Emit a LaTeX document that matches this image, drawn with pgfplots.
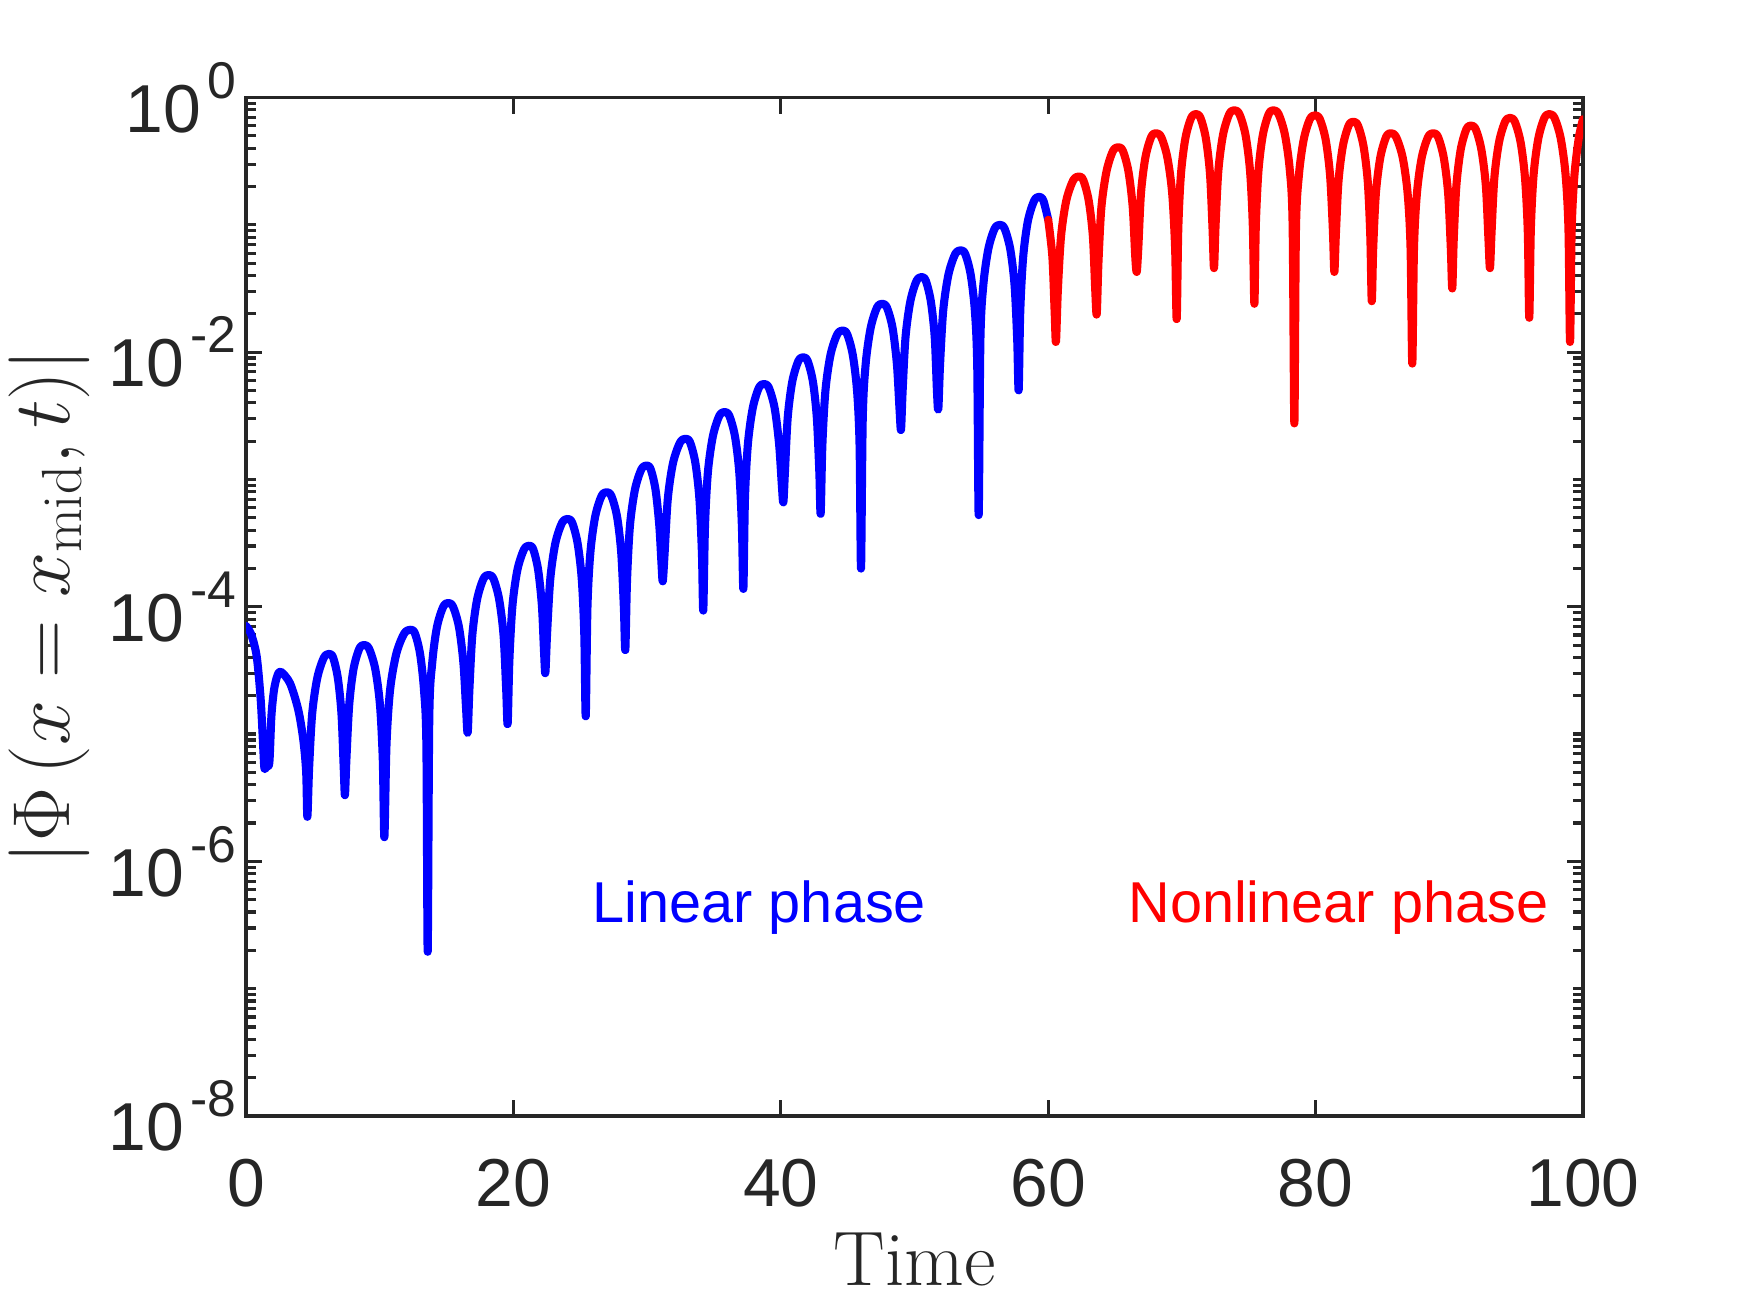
\documentclass[border=0pt]{standalone}
\usepackage{fix-cm}
\usepackage{fontspec}
\usepackage{pgfplots}
\usepackage{pgfplotstable}
\pgfplotsset{compat=1.18}
\newfontfamily\lsans{Liberation Sans}
\definecolor{axgray}{rgb}{0.15,0.15,0.15}
\newcommand\tickfont{\lsans\fontsize{19.3}{23}\selectfont}
\newcommand\txtfont{\lsans\fontsize{16.4}{19}\selectfont}
\newcommand\labfont{\fontsize{22}{26}\selectfont}
\newcommand\ylabfont{\fontsize{23}{27}\selectfont}
\newcommand\sps[1]{\hspace{0.1em}\raisebox{0.5em}{\fontsize{14.7}{17}\selectfont #1}}

% time, log10|Phi|
\pgfplotstableread{
t ly
0 -4.15
0.4 -4.22
0.8 -4.39
1.1 -4.73
1.3 -5.13
1.38 -5.27
1.55 -5.25
1.75 -5.22
1.9 -4.86
2.1 -4.65
2.35 -4.54
2.6 -4.51
3.29 -4.60
3.91 -4.81
4.29 -5.05
4.50 -5.30
4.59 -5.65
4.72 -5.27
4.95 -4.84
5.33 -4.56
5.82 -4.40
6.23 -4.37
6.52 -4.40
6.87 -4.56
7.14 -4.84
7.31 -5.27
7.40 -5.48
7.51 -5.20
7.72 -4.77
8.04 -4.49
8.47 -4.33
8.83 -4.30
9.21 -4.33
9.67 -4.49
10.02 -4.77
10.23 -5.20
10.35 -5.81
10.51 -5.08
10.78 -4.65
11.24 -4.37
11.83 -4.21
12.32 -4.18
12.64 -4.21
13.02 -4.37
13.31 -4.65
13.49 -5.08
13.59 -6.71
13.71 -4.87
13.93 -4.44
14.28 -4.16
14.75 -4.00
15.13 -3.97
15.49 -4.00
15.93 -4.16
16.26 -4.44
16.46 -4.80
16.58 -4.99
16.71 -4.65
16.93 -4.22
17.29 -3.94
17.76 -3.78
18.15 -3.75
18.51 -3.78
18.93 -3.94
19.26 -4.22
19.46 -4.65
19.57 -4.92
19.70 -4.42
19.93 -3.99
20.30 -3.71
20.79 -3.55
21.19 -3.52
21.49 -3.55
21.85 -3.71
22.13 -3.99
22.29 -4.35
22.39 -4.52
22.52 -4.21
22.76 -3.78
23.14 -3.50
23.64 -3.34
24.06 -3.31
24.40 -3.34
24.80 -3.50
25.11 -3.78
25.30 -4.21
25.41 -4.86
25.54 -4.00
25.76 -3.57
26.12 -3.29
26.59 -3.13
26.98 -3.10
27.33 -3.13
27.75 -3.29
28.06 -3.57
28.26 -4.00
28.37 -4.34
28.50 -3.79
28.72 -3.36
29.09 -3.08
29.57 -2.92
29.97 -2.89
30.27 -2.92
30.63 -3.08
30.91 -3.36
31.07 -3.65
31.17 -3.80
31.31 -3.58
31.55 -3.15
31.94 -2.87
32.46 -2.71
32.89 -2.68
33.22 -2.71
33.61 -2.87
33.91 -3.15
34.10 -3.58
34.20 -4.03
34.33 -3.37
34.55 -2.94
34.92 -2.66
35.40 -2.50
35.80 -2.47
36.15 -2.50
36.57 -2.66
36.89 -2.94
37.09 -3.37
37.20 -3.86
37.32 -3.15
37.54 -2.72
37.90 -2.44
38.36 -2.28
38.75 -2.25
39.11 -2.28
39.54 -2.44
39.87 -2.72
40.08 -3.05
40.19 -3.18
40.31 -2.94
40.52 -2.51
40.86 -2.23
41.31 -2.07
41.68 -2.04
42.01 -2.07
42.40 -2.23
42.69 -2.51
42.88 -2.94
42.98 -3.27
43.11 -2.73
43.34 -2.30
43.72 -2.02
44.22 -1.86
44.63 -1.83
44.97 -1.86
45.38 -2.02
45.70 -2.30
45.89 -2.73
46.00 -3.70
46.13 -2.52
46.35 -2.09
46.72 -1.81
47.19 -1.65
47.59 -1.62
47.94 -1.65
48.36 -1.81
48.68 -2.09
48.88 -2.45
48.99 -2.61
49.11 -2.31
49.33 -1.88
49.69 -1.60
50.15 -1.44
50.54 -1.41
50.85 -1.44
51.22 -1.60
51.51 -1.88
51.68 -2.31
51.78 -2.45
51.91 -2.10
52.15 -1.67
52.54 -1.39
53.04 -1.23
53.46 -1.20
53.80 -1.23
54.20 -1.39
54.51 -1.67
54.69 -2.10
54.80 -3.28
54.93 -1.90
55.15 -1.47
55.52 -1.19
55.99 -1.03
56.39 -1.00
56.74 -1.03
57.16 -1.19
57.48 -1.47
57.68 -1.90
57.79 -2.30
57.91 -1.68
58.13 -1.25
58.48 -0.97
58.95 -0.81
59.33 -0.78
59.64 -0.81
60.00 -0.96
}\lineardata

\pgfplotstableread{
t ly
60.00 -0.96
60.31 -1.25
60.48 -1.68
60.58 -1.92
60.72 -1.52
60.96 -1.09
61.35 -0.81
61.87 -0.65
62.30 -0.62
62.63 -0.65
63.03 -0.81
63.34 -1.09
63.52 -1.52
63.63 -1.70
63.76 -1.29
63.98 -0.86
64.36 -0.58
64.84 -0.42
65.24 -0.39
65.59 -0.42
66.00 -0.58
66.32 -0.86
66.51 -1.25
66.62 -1.37
66.74 -1.18
66.94 -0.75
67.27 -0.47
67.70 -0.31
68.06 -0.28
68.45 -0.31
68.91 -0.47
69.27 -0.75
69.49 -1.18
69.61 -1.74
69.73 -1.03
69.93 -0.60
70.26 -0.32
70.69 -0.16
71.05 -0.13
71.39 -0.16
71.79 -0.32
72.10 -0.60
72.29 -1.03
72.40 -1.34
72.52 -1.00
72.73 -0.57
73.08 -0.29
73.54 -0.13
73.92 -0.10
74.30 -0.13
74.75 -0.29
75.09 -0.57
75.30 -1.00
75.42 -1.62
75.53 -1.00
75.73 -0.57
76.06 -0.29
76.49 -0.13
76.84 -0.10
77.23 -0.13
77.70 -0.29
78.07 -0.57
78.28 -1.00
78.41 -2.56
78.53 -1.04
78.75 -0.61
79.11 -0.33
79.57 -0.17
79.96 -0.14
80.32 -0.17
80.75 -0.33
81.08 -0.61
81.29 -1.04
81.40 -1.37
81.51 -1.09
81.71 -0.66
82.04 -0.38
82.47 -0.22
82.82 -0.19
83.17 -0.22
83.58 -0.38
83.90 -0.66
84.09 -1.09
84.20 -1.60
84.31 -1.18
84.51 -0.75
84.84 -0.47
85.27 -0.31
85.62 -0.28
86.02 -0.31
86.51 -0.47
86.88 -0.75
87.10 -1.18
87.23 -2.09
87.36 -1.18
87.58 -0.75
87.94 -0.47
88.41 -0.31
88.80 -0.28
89.16 -0.31
89.58 -0.47
89.91 -0.75
90.11 -1.18
90.22 -1.50
90.33 -1.12
90.53 -0.69
90.85 -0.41
91.27 -0.25
91.62 -0.22
91.98 -0.25
92.40 -0.41
92.73 -0.69
92.93 -1.12
93.04 -1.34
93.16 -1.06
93.37 -0.63
93.72 -0.35
94.17 -0.19
94.54 -0.16
94.90 -0.19
95.33 -0.35
95.66 -0.63
95.87 -1.06
95.98 -1.73
96.10 -1.03
96.31 -0.60
96.66 -0.32
97.11 -0.16
97.48 -0.13
97.87 -0.16
98.33 -0.32
98.69 -0.60
98.91 -1.03
99.03 -1.92
99.15 -1.05
99.35 -0.62
99.68 -0.32
100 -0.17
}\nonlineardata

\begin{document}
\begin{tikzpicture}
\path[use as bounding box] (-2.46cm,-1.97cm) rectangle (15.04cm,11.16cm);
\begin{axis}[
  at={(0,0)}, anchor=south west,
  scale only axis, width=13.37cm, height=10.185cm,
  xmin=0, xmax=100, ymin=-8, ymax=0,
  xtick={0,20,40,60,80,100},
  xticklabels={0,20,40,60,80,100},
  ytick={-8,-6,-4,-2,0},
  yticklabels={10\sps{-8},10\sps{-6},10\sps{-4},10\sps{-2},10\sps{0}},
  minor ytick={-7.699,-7.523,-7.398,-7.301,-7.222,-7.155,-7.097,-7.046,
    -7,-6.699,-6.523,-6.398,-6.301,-6.222,-6.155,-6.097,-6.046,
    -5.699,-5.523,-5.398,-5.301,-5.222,-5.155,-5.097,-5.046,
    -5,-4.699,-4.523,-4.398,-4.301,-4.222,-4.155,-4.097,-4.046,
    -3.699,-3.523,-3.398,-3.301,-3.222,-3.155,-3.097,-3.046,
    -3,-2.699,-2.523,-2.398,-2.301,-2.222,-2.155,-2.097,-2.046,
    -1.699,-1.523,-1.398,-1.301,-1.222,-1.155,-1.097,-1.046,
    -1,-0.699,-0.523,-0.398,-0.301,-0.222,-0.155,-0.097,-0.046},
  tick align=inside,
  major tick length=1.6mm, minor tick length=1.0mm,
  axis line style={line width=0.9pt, draw=axgray},
  every tick/.style={line width=0.9pt, draw=axgray},
  ticklabel style={font=\tickfont, text=axgray},
  xticklabel style={yshift=-3.1mm},
  yticklabel style={xshift=0.3mm},
  xlabel={Time},
  xlabel style={at={(axis description cs:0.5,0)}, anchor=base, yshift=-16.9mm, font=\labfont, text=axgray},
  ylabel={$\left|\Phi\left(x=x_{\mathrm{mid}},t\right)\right|$},
  ylabel style={at={([xshift=-19.7mm]axis description cs:0,0.5)}, anchor=center, inner sep=0pt, font=\ylabfont, text=axgray},
]
\addplot[blue, line width=2.3pt, line join=round, line cap=round, smooth, tension=0.5] table[x=t, y=ly] {\lineardata};
\addplot[red, line width=2.3pt, line join=round, line cap=round, smooth, tension=0.5] table[x=t, y=ly] {\nonlineardata};
\node[anchor=base, text=blue, font=\txtfont, inner sep=0pt] at (axis cs:38.4,-6.48) {Linear phase};
\node[anchor=base, text=red, font=\txtfont, inner sep=0pt] at (axis cs:81.7,-6.48) {Nonlinear phase};
\end{axis}
\end{tikzpicture}
\end{document}
